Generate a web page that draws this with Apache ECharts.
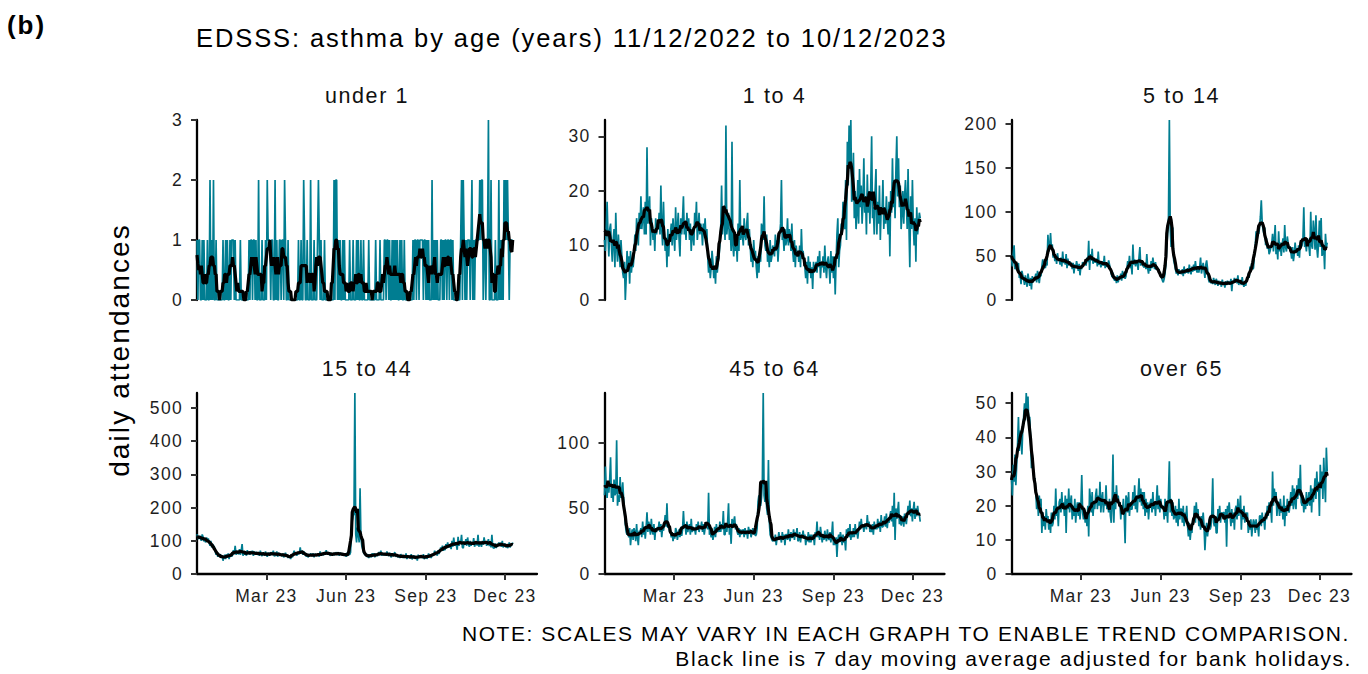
<!DOCTYPE html>
<html>
<head>
<meta charset="utf-8">
<script src="https://cdn.jsdelivr.net/npm/echarts@6/dist/echarts.min.js"></script>
<style>
  html, body { margin: 0; padding: 0; background: #ffffff; }
  #chart { width: 1368px; height: 674px; }
  #chart text { letter-spacing: 0.075em; }
</style>
</head>
<body>
<div id="chart"></div>
<script>
// Daily EDSSS asthma attendances, 11 Dec 2022 to 10 Dec 2023 (one value per day, rows of 7 days)
const startDate = '2022-12-11';
const axisEndDate = '2024-01-07';
const tickDates = ['2023-03-01', '2023-06-01', '2023-09-01', '2023-12-01'];
const tickLabels = ['Mar 23', 'Jun 23', 'Sep 23', 'Dec 23'];
const panelTitles = ['under 1', '1 to 4', '5 to 14', '15 to 44', '45 to 64', 'over 65'];

const yTicksUnder1 = [0, 1, 2, 3];
const yTicks1to4 = [0, 10, 20, 30];
const yTicks5to14 = [0, 50, 100, 150, 200];
const yTicks15to44 = [0, 100, 200, 300, 400, 500];
const yTicks45to64 = [0, 50, 100];
const yTicksOver65 = [0, 10, 20, 30, 40, 50];

const under1 = [
  1,0,1,1,0,0,1, 0,1,0,0,0,1,0, 0,2,0,1,0,2,0, 0,1,0,0,0,0,0,
  0,0,1,0,0,1,0, 1,0,0,1,0,1,1, 1,0,1,0,0,0,0, 0,1,0,0,0,0,0,
  0,0,0,0,1,0,1, 1,0,1,1,0,1,0, 0,2,0,0,0,1,0, 0,0,1,0,2,1,1,
  1,0,1,1,0,0,2, 0,1,0,0,1,1,0, 1,1,0,2,1,0,0, 1,0,0,0,0,0,0,
  0,0,0,0,0,1,0, 0,1,0,0,2,1,0, 0,1,0,0,0,2,0, 0,0,1,0,0,0,1,
  2,1,0,1,0,0,0, 1,0,0,0,0,0,0, 0,0,0,0,2,0,2, 2,0,1,0,1,0,0,
  1,0,1,0,0,0,0, 0,1,0,0,0,1,0, 0,0,1,0,1,0,0, 1,0,0,1,0,0,0,
  0,0,1,0,0,0,0, 0,0,0,1,0,0,0, 0,1,0,0,0,0,1, 1,0,1,1,0,1,0,
  0,1,0,1,0,1,0, 1,0,0,1,0,1,0, 0,1,0,0,0,0,0, 0,0,0,0,1,0,1,
  1,0,1,1,0,1,1, 1,1,0,1,1,0,1, 0,1,0,0,0,2,0, 1,0,1,0,1,0,0,
  0,1,1,0,1,0,1, 1,0,1,1,0,1,1, 0,1,0,0,0,0,0, 0,0,0,1,2,0,2,
  1,0,1,0,1,1,1, 0,1,2,0,1,0,1, 1,1,1,1,2,1,2, 2,0,1,1,0,1,1,
  3,0,0,2,0,0,0, 0,1,0,0,0,2,0, 1,0,1,0,2,1,2, 1,2,1,0,1,1,1,
  1
];

const age1to4 = [
  11,9,13,18,12,8,13, 14,10,7,11,13,6,16, 10,7,12,9,6,11,8, 5,4,7,0,4,9,6,
  8,3,9,5,7,6,8, 12,9,15,13,10,16,13, 19,13,15,17,12,18,12, 28,14,16,19,10,15,14,
  11,13,9,15,12,14,13, 16,12,21,13,10,18,12, 9,11,6,13,8,12,12, 14,10,15,12,9,17,11,
  13,16,11,8,15,12,15, 19,12,14,11,16,13,15, 11,14,9,13,12,10,16, 14,18,11,13,16,12,14,
  13,10,14,12,15,11,13, 8,5,7,4,6,9,7, 4,6,3,8,5,7,8, 10,13,21,12,16,15,11,
  32,12,14,16,11,13,9, 29,10,8,12,9,11,7, 14,9,22,11,13,12,10, 15,12,11,14,16,10,13,
  10,7,9,6,11,8,9, 6,4,8,5,9,7,14, 13,11,19,10,9,12,7, 9,6,11,7,8,10,9,
  8,12,9,11,7,10,12, 14,22,11,12,9,13,10, 11,15,10,13,12,9,14, 9,7,11,6,10,8,9,
  7,10,6,13,8,9,7, 6,4,7,3,8,5,7, 4,6,2,7,5,6,7, 5,8,6,9,4,7,6,
  8,5,10,6,4,7,8, 6,3,9,5,8,4,8, 1,7,12,15,6,9,10, 14,12,18,15,13,22,11,
  29,21,32,25,33,18,19, 27,15,20,13,16,22,14, 24,17,21,14,18,26,16, 19,12,23,16,20,14,21,
  30,15,17,12,20,24,12, 18,14,21,11,17,16,22, 13,17,14,19,15,12,18, 8,20,16,26,17,22,15,
  24,30,19,26,17,21,13, 16,20,14,19,22,18,13, 24,14,6,19,13,22,14, 10,15,7,17,12,14,16,
  15
];

const age5to14 = [
  47,38,52,62,35,40,34, 36,42,25,28,18,33,28, 24,17,28,21,15,30,23, 16,25,12,27,20,23,24,
  30,20,33,25,19,28,27, 38,46,35,44,36,42,39, 74,55,60,76,58,63,48, 55,44,50,41,53,46,47,
  40,48,38,55,42,45,40, 52,36,47,39,44,41,42, 35,42,30,40,36,44,39, 33,41,28,38,35,43,41,
  40,44,39,48,43,67,34, 52,45,58,41,47,43,43, 47,38,55,40,44,37,40, 44,39,50,36,42,38,38,
  45,40,35,30,26,31,24, 22,26,19,28,20,25,24, 30,22,33,25,28,24,27, 35,44,38,50,36,41,29,
  63,40,46,38,45,42,34, 48,60,39,45,41,38,37, 42,35,52,36,30,38,33, 44,36,48,40,35,43,34,
  38,33,35,30,28,25,22, 20,24,30,40,60,75,95, 204,82,60,65,82,45,40, 35,30,32,28,35,30,33,
  29,35,27,38,30,34,31, 36,30,40,33,29,38,32, 40,33,44,35,31,38,31, 38,48,30,36,42,33,25,
  40,45,36,24,20,22,19, 22,18,25,20,17,24,21, 16,22,18,20,15,23,19, 20,14,21,17,22,18,21,
  18,24,10,22,19,25,22, 24,19,28,17,22,20,17, 26,18,15,20,16,22,23, 30,25,38,32,42,35,36,
  50,60,78,65,80,75,82, 95,113,88,80,75,82,62, 70,58,62,52,55,60,63, 75,55,68,85,52,60,46,
  78,55,65,50,62,70,54, 85,60,55,72,64,58,61, 55,47,60,44,52,65,55, 58,50,62,48,66,60,62,
  68,105,60,65,55,70,67, 60,50,100,62,58,90,77, 57,96,60,48,65,90,60, 93,50,55,60,35,75,59,
  65
];

const age15to44 = [
  120,110,105,115,108,100,119, 112,98,106,95,110,100,107, 95,85,100,80,90,84,82, 70,58,65,52,60,55,60,
  48,55,40,52,58,45,59, 50,62,45,58,60,52,58, 72,60,85,58,65,62,60, 75,58,70,90,55,62,59,
  68,55,72,60,66,58,69, 62,70,55,68,58,66,62, 58,66,55,70,60,54,64, 62,55,68,58,52,64,61,
  55,66,58,62,70,54,55, 60,68,52,64,58,62,56, 54,62,50,58,64,55,56, 48,56,52,45,58,50,62,
  70,58,66,55,62,60,63, 80,62,70,58,68,64,60, 52,60,50,58,55,62,55, 55,62,50,60,58,57,57,
  60,52,68,56,62,58,57, 66,58,72,60,62,65,58, 55,64,58,62,56,60,65, 62,58,66,55,64,60,62,
  56,62,55,60,52,64,57, 60,58,65,120,160,175,180, 545,120,95,140,120,95,258, 110,85,75,65,60,58,55,
  52,60,48,58,55,50,62, 56,62,50,60,58,54,59, 66,58,70,55,62,60,56, 62,55,68,58,54,64,59,
  50,62,55,58,66,52,56, 58,50,56,48,60,52,54, 48,56,50,62,45,52,51, 55,47,60,44,52,56,50,
  46,54,40,58,50,55,54, 52,48,60,45,50,56,46, 50,62,52,58,48,60,55, 58,70,60,66,55,72,60,
  68,80,72,85,70,78,72, 90,78,95,80,82,88,75, 100,82,110,85,92,88,73, 112,85,100,92,118,80,78,
  98,88,105,85,110,90,82, 100,85,96,88,108,82,92, 95,86,118,82,98,90,82, 100,88,110,92,96,85,94,
  105,84,98,80,118,82,77, 80,92,78,88,84,95,85, 94,82,100,80,88,92,80, 90,78,84,95,80,88,87,
  95
];

const age45to64 = [
  60,82,65,58,70,62,72, 89,58,66,55,72,60,62, 102,52,60,55,74,58,61, 70,58,48,38,32,30,32,
  28,35,22,30,34,26,35, 32,25,38,28,22,33,32, 35,28,40,30,36,27,35, 47,32,40,35,30,42,33,
  30,38,26,35,32,36,34, 40,32,38,28,36,33,38, 45,36,54,35,38,32,33, 28,32,25,30,27,35,33,
  26,30,34,28,36,29,34, 48,35,38,30,40,32,36, 38,30,42,32,36,33,34, 30,38,34,40,32,36,35,
  40,32,38,30,35,38,39, 34,62,30,32,28,33,26, 30,36,28,38,32,35,32, 40,32,38,34,48,30,30,
  38,32,40,54,30,35,23, 42,36,40,44,34,38,32, 30,35,28,34,30,33,34, 28,35,30,33,27,36,32,
  34,28,32,35,30,33,29, 30,35,55,60,55,52,58, 70,138,60,55,62,50,45, 87,40,30,28,26,25,27,
  25,30,22,28,26,32,26, 28,24,32,26,30,22,30, 30,26,34,28,25,32,28, 28,34,26,32,30,35,25,
  26,32,24,30,28,33,27, 30,22,28,25,32,24,30, 24,30,26,29,22,32,28, 40,28,33,26,36,30,24,
  30,26,33,28,25,34,27, 26,32,24,30,40,22,26, 22,28,13,26,30,24,32, 28,22,30,24,26,18,34,
  30,35,28,38,26,32,28, 35,28,38,30,33,27,33, 40,34,42,35,38,32,38, 38,34,45,36,40,32,37,
  32,38,30,40,34,37,34, 42,35,40,32,45,36,36, 38,44,36,46,35,42,39, 44,48,40,52,36,62,26,
  50,42,48,55,38,45,37, 40,44,36,46,42,38,45, 52,45,56,44,50,40,49, 55,42,50,44,52,46,45,
  40
];

const over65 = [
  28,23,32,27,35,26,32, 38,46,36,42,40,35,43, 46,50,45,53,47,52,43, 46,40,31,35,30,28,28,
  24,19,22,17,23,20,22, 12,18,14,17,13,19,16, 17,13,16,12,18,14,15, 20,16,25,17,19,14,21,
  22,18,24,19,21,17,23, 12,22,19,25,18,21,23, 16,20,17,22,15,19,21, 17,21,16,20,29,18,16,
  19,15,18,14,20,11,25, 22,18,24,17,21,19,23, 25,19,23,20,27,18,22, 24,18,22,20,26,19,21,
  18,22,17,15,20,35,15, 24,19,26,21,23,20,21, 16,20,18,22,17,9,23, 22,18,24,17,21,19,19,
  24,20,26,19,23,18,23, 28,21,25,20,24,19,24, 17,22,18,21,16,20,21, 22,18,24,19,21,17,21,
  26,19,23,18,22,20,19, 20,16,22,17,19,15,24, 33,18,22,17,21,16,17, 20,15,19,14,22,16,19,
  19,15,20,14,18,16,20, 14,11,15,10,13,12,16, 16,20,15,21,17,19,14, 16,13,17,15,18,14,7,
  12,15,11,14,16,13,14, 18,28,15,14,17,12,12, 19,16,20,15,18,17,18, 18,15,19,8,20,18,21,
  17,14,19,15,18,13,19, 20,16,22,17,19,23,13, 19,16,20,15,18,17,18, 12,15,13,16,11,14,16,
  15,12,16,13,14,11,17, 17,14,18,15,16,13,18, 16,20,17,21,18,19,15, 30,20,25,22,24,17,21,
  21,17,22,18,20,16,23, 14,20,17,22,19,18,20, 24,20,26,19,25,21,19, 26,22,28,23,32,21,20,
  23,18,22,19,24,20,21, 24,20,26,18,25,21,24, 28,22,30,24,27,17,32, 25,30,22,34,27,21,37,
  30
];

// ---- layout ----
const FONT = '"Liberation Sans", Arial, Helvetica, sans-serif';
const TEAL = '#007d91';
const TEXT_DARK = '#1e1e1e';
const DAY_MS = 86400000;
const dayOf = s => Math.round((Date.parse(s) - Date.parse(startDate)) / DAY_MS);
const xMax = dayOf(axisEndDate);
const tickDays = tickDates.map(dayOf);

const panelData = [under1, age1to4, age5to14, age15to44, age45to64, over65];
const panelTicks = [yTicksUnder1, yTicks1to4, yTicks5to14, yTicks15to44, yTicks45to64, yTicksOver65];

const gridLefts = [197, 604.5, 1011.5];
const gridWidth = 340;
const rowTops = [120, 393];
const rowHeights = [180, 181];
const titleY = [95.8, 369.2];

// centred 7-day moving average (window shrinks at the ends of the series)
function movingAverage(vals, win) {
  const half = Math.floor(win / 2);
  return vals.map((_, i) => {
    let s = 0, n = 0;
    for (let j = i - half; j <= i + half; j++) {
      if (j >= 0 && j < vals.length) { s += vals[j]; n++; }
    }
    return s / n;
  });
}

const grids = [], xAxes = [], yAxes = [], series = [], graphics = [];

panelData.forEach((vals, i) => {
  const col = i % 3, row = Math.floor(i / 3);
  grids.push({ left: gridLefts[col], top: rowTops[row], width: gridWidth, height: rowHeights[row], containLabel: false });

  xAxes.push({
    type: 'value', gridIndex: i, min: 0, max: xMax, show: row === 1,
    axisLine: { show: true, lineStyle: { color: '#000', width: 2.3 } },
    axisTick: { show: true, customValues: tickDays, length: 6, lineStyle: { color: '#333', width: 2 } },
    axisLabel: {
      show: true, customValues: tickDays, margin: 13,
      formatter: v => tickLabels[tickDays.indexOf(v)] || '',
      fontSize: 17.5, fontFamily: FONT, color: TEXT_DARK
    },
    splitLine: { show: false }
  });

  yAxes.push({
    type: 'value', gridIndex: i, min: 0, max: 'dataMax',
    axisLine: { show: true, lineStyle: { color: '#000', width: 2.3 } },
    axisTick: { show: true, customValues: panelTicks[i], length: 6, lineStyle: { color: '#333', width: 2 } },
    axisLabel: { show: true, customValues: panelTicks[i], margin: 14, fontSize: 17.5, fontFamily: FONT, color: TEXT_DARK },
    splitLine: { show: false }
  });

  const ma = movingAverage(vals, 7);
  series.push({
    type: 'line', xAxisIndex: i, yAxisIndex: i, symbol: 'none', showSymbol: false,
    data: vals.map((v, d) => [d, v]),
    lineStyle: { color: TEAL, width: 1.7 }, silent: true, z: 2
  });
  series.push({
    type: 'line', xAxisIndex: i, yAxisIndex: i, symbol: 'none', showSymbol: false,
    data: ma.map((v, d) => [d, v]),
    lineStyle: { color: '#000', width: 3.2 }, silent: true, z: 3
  });

  graphics.push({
    type: 'text', x: gridLefts[col] + gridWidth / 2, y: titleY[row],
    style: { text: panelTitles[i], fill: '#111', fontSize: 21.5, fontFamily: FONT, textAlign: 'center', textVerticalAlign: 'middle' }
  });
});

graphics.push(
  { type: 'text', x: 7, y: 25,
    style: { text: '(b)', fill: '#000', fontSize: 26, fontWeight: 'bold', fontFamily: FONT, textAlign: 'left', textVerticalAlign: 'middle' } },
  { type: 'text', x: 196, y: 38,
    style: { text: 'EDSSS: asthma by age (years) 11/12/2022 to 10/12/2023', fill: '#000', fontSize: 25.5, fontFamily: FONT, textAlign: 'left', textVerticalAlign: 'middle' } },
  { type: 'text', x: 119, y: 350, rotation: Math.PI / 2,
    style: { text: 'daily attendances', fill: '#000', fontSize: 28, fontFamily: FONT, textAlign: 'center', textVerticalAlign: 'middle' } },
  { type: 'text', x: 1350, y: 633,
    style: { text: 'NOTE: SCALES MAY VARY IN EACH GRAPH TO ENABLE TREND COMPARISON.', fill: '#000', fontSize: 21, fontFamily: FONT, textAlign: 'right', textVerticalAlign: 'middle' } },
  { type: 'text', x: 1352, y: 658,
    style: { text: 'Black line is 7 day moving average adjusted for bank holidays.', fill: '#000', fontSize: 21, fontFamily: FONT, textAlign: 'right', textVerticalAlign: 'middle' } }
);

const chart = echarts.init(document.getElementById('chart'), null, { renderer: 'svg', width: 1368, height: 674 });
chart.setOption({
  animation: false,
  backgroundColor: '#ffffff',
  grid: grids,
  xAxis: xAxes,
  yAxis: yAxes,
  series: series,
  graphic: graphics
});
</script>
</body>
</html>
